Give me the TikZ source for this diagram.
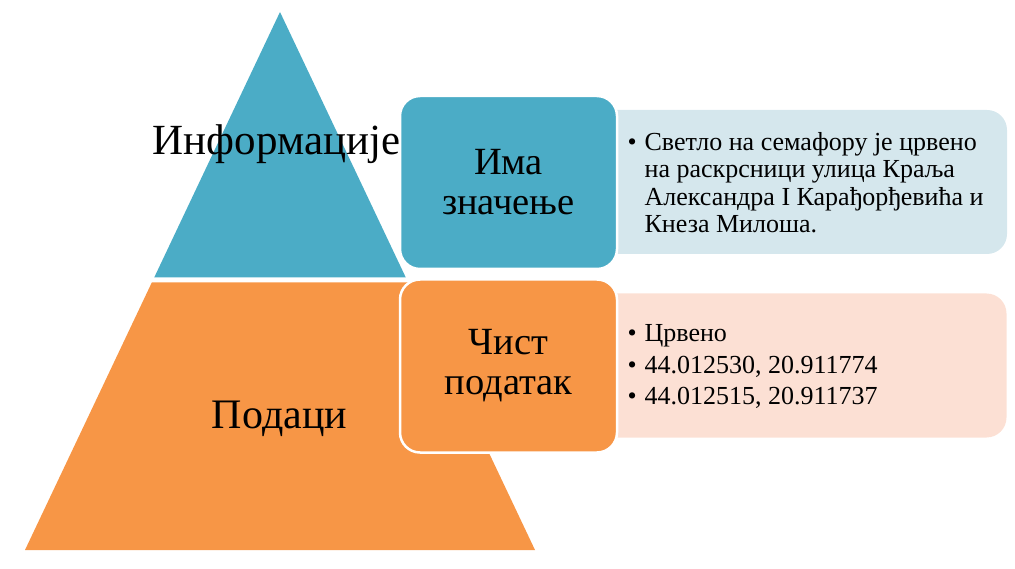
\documentclass[tikz,border=0pt]{standalone}
\usepackage{fontspec}
\setmainfont{Liberation Serif}
\usetikzlibrary{positioning}

\definecolor{infoblue}{HTML}{4BACC6}
\definecolor{dataorange}{HTML}{F79646}
\definecolor{infopale}{HTML}{D5E7ED}
\definecolor{datapale}{HTML}{FCE0D4}

\tikzset{
  keybox/.style={rectangle, rounded corners=20pt, draw=white, line width=2.5pt,
    minimum width=217pt, minimum height=173pt, align=center,
    font=\rmfamily\fontsize{38.5}{40}\selectfont},
  notebox/.style={rectangle, rounded corners=20pt, minimum width=447pt,
    minimum height=144pt},
  notetext/.style={anchor=west, font=\rmfamily\fontsize{26}{27.3}\selectfont},
  leveltext/.style={anchor=base, font=\rmfamily\fontsize{43}{48}\selectfont}
}

\begin{document}
\begin{tikzpicture}[x=1pt,y=-1pt]
    \useasboundingbox (0,0) rectangle (1015,569);

    % pyramid
    \fill[infoblue] (280,12) -- (405.8,277.5) -- (154.2,277.5) -- cycle;
    \fill[dataorange] (151.8,282.5) -- (408.2,282.5) -- (535,550) -- (25,550) -- cycle;

    \node[leveltext] (info) at (276.5,155) {Информације};
    \node[leveltext, font=\rmfamily\fontsize{42}{46}\selectfont] (data) at (279.5,428) {Подаци};

    % side boxes
    \node[notebox, fill=infopale] (infonote) at (783.5,182) {};
    \node[notebox, fill=datapale] (datanote) at (783,365.5) {};

    \node[keybox, fill=infoblue] (meaning) at (508.5,182.5) {Има\\значење};
    \node[keybox, fill=dataorange] (raw) at (508.5,366) {Чист\\податак};

    \node[notetext] (infotext) at (624,186) {%
      \begin{tabular}{@{}l@{\hspace{8pt}}l@{}}
        \textbullet & Светло на семафору је црвено\\
                    & на раскрсници улица Краља\\
                    & Александра I Карађорђевића и\\
                    & Кнеза Милоша.
      \end{tabular}};
    \node[notetext, font=\rmfamily\fontsize{26}{31.5}\selectfont] (datatext) at (624,367) {%
      \begin{tabular}{@{}l@{\hspace{8pt}}l@{}}
        \textbullet & Црвено\\
        \textbullet & 44.012530, 20.911774\\
        \textbullet & 44.012515, 20.911737
      \end{tabular}};
\end{tikzpicture}
\end{document}
